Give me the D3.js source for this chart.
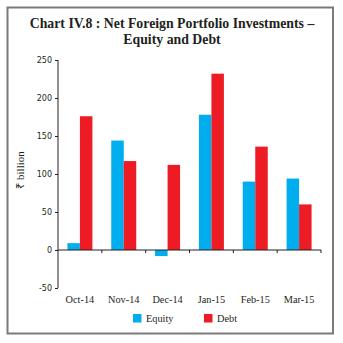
<!DOCTYPE html>
<html>
<head>
<meta charset="utf-8">
<script src="https://cdn.jsdelivr.net/npm/d3@7"></script>
<style>
  body { margin: 0; background: #fff; }
</style>
</head>
<body>
<div id="chart"></div>
<script>
// chart data
const months = ["Oct-14", "Nov-14", "Dec-14", "Jan-15", "Feb-15", "Mar-15"];
const equity = [9, 144, -8, 178, 90, 94];
const debt = [176, 117, 112, 232, 136, 60];
const yTicks = [-50, 0, 50, 100, 150, 200, 250];
const seriesNames = ["Equity", "Debt"];
const colors = ["#00aeef", "#ed1c24"];

const width = 343;
const height = 343;
const plot = {left: 58, right: 321, top: 60, bottom: 288};

let svg = d3.select("#chart")
    .append("svg")
    .attr("width", width)
    .attr("height", height);

// outer frame
svg.append("rect")
    .attr("x", 7.5)
    .attr("y", 7.5)
    .attr("width", 325.5)
    .attr("height", 326)
    .attr("fill", "none")
    .attr("stroke", "#7a7a7a")
    .attr("stroke-width", 2);

// title
let title = svg.append("text")
    .attr("text-anchor", "middle")
    .style("font-family", "'Liberation Serif', serif")
    .style("font-weight", "bold")
    .style("font-size", "13.8px")
    .attr("fill", "#231f20");
title.append("tspan").attr("x", 172).attr("y", 28)
    .text("Chart IV.8 : Net Foreign Portfolio Investments –");
title.append("tspan").attr("x", 172).attr("y", 44)
    .text("Equity and Debt");

let xScale = d3.scaleBand()
    .domain(months)
    .range([plot.left, plot.right])
    .paddingInner(0.43)
    .paddingOuter(0.215);

let yScale = d3.scaleLinear()
    .domain([-50, 250])
    .range([plot.bottom, plot.top]);

let barWidth = xScale.bandwidth() / 2;

// bars
[equity, debt].forEach(function (values, s) {
    svg.append("g")
        .selectAll("rect")
        .data(values)
        .enter()
        .append("rect")
        .attr("x", function (d, i) { return xScale(months[i]) + s * barWidth; })
        .attr("y", function (d) { return yScale(Math.max(0, d)); })
        .attr("width", barWidth)
        .attr("height", function (d) { return Math.abs(yScale(d) - yScale(0)); })
        .attr("fill", colors[s]);
});

// y axis
let yAxis = svg.append("g")
    .attr("transform", "translate(" + plot.left + ",0)")
    .call(d3.axisLeft(yScale).tickValues(yTicks).tickSize(3).tickPadding(3)
        .tickFormat(function (d) { return String(d); }));
yAxis.select(".domain").attr("stroke", "#231f20").attr("d", "M0," + plot.top + "V" + plot.bottom);
yAxis.selectAll(".tick line").attr("stroke", "#231f20");
yAxis.selectAll("text")
    .style("font-family", "'DejaVu Sans', sans-serif")
    .style("font-size", "8px")
    .attr("fill", "#231f20");

// x axis at zero with boundary ticks
let zeroY = yScale(0);
svg.append("line")
    .attr("x1", plot.left).attr("x2", plot.right)
    .attr("y1", zeroY).attr("y2", zeroY)
    .attr("stroke", "#231f20");
let bounds = months.map(function (m) { return xScale(m) - xScale.step() * xScale.paddingInner() / 2; })
    .slice(1).concat([plot.right]);
svg.append("g")
    .selectAll("line")
    .data(bounds)
    .enter()
    .append("line")
    .attr("x1", function (d) { return d; })
    .attr("x2", function (d) { return d; })
    .attr("y1", zeroY)
    .attr("y2", zeroY + 3)
    .attr("stroke", "#231f20");

// category labels
svg.append("g")
    .selectAll("text")
    .data(months)
    .enter()
    .append("text")
    .attr("x", function (d) { return xScale(d) + xScale.bandwidth() / 2; })
    .attr("y", 303)
    .attr("text-anchor", "middle")
    .style("font-family", "'Liberation Serif', serif")
    .style("font-size", "10.3px")
    .attr("fill", "#231f20")
    .text(function (d) { return d; });

// y label
svg.append("text")
    .attr("transform", "translate(24,170) rotate(-90)")
    .attr("text-anchor", "middle")
    .style("font-family", "'Liberation Serif', serif")
    .style("font-size", "11px")
    .attr("fill", "#231f20")
    .text("₹ billion");

// legend
let legendX = [133, 204];
seriesNames.forEach(function (name, i) {
    svg.append("rect")
        .attr("x", legendX[i])
        .attr("y", 314)
        .attr("width", 8.5)
        .attr("height", 8.5)
        .attr("fill", colors[i]);
    svg.append("text")
        .attr("x", legendX[i] + 13)
        .attr("y", 322)
        .style("font-family", "'Liberation Serif', serif")
        .style("font-size", "10.3px")
        .attr("fill", "#231f20")
        .text(name);
});
</script>
</body>
</html>
